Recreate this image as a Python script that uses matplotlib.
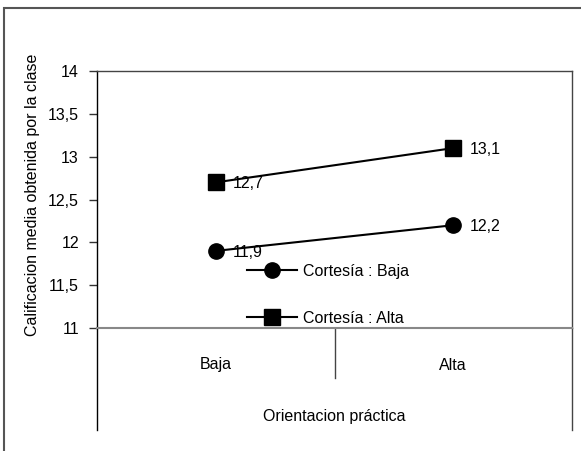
import matplotlib
matplotlib.use("Agg")
import matplotlib.pyplot as plt
from matplotlib.patches import Rectangle

plt.rcParams['font.family'] = ['Liberation Sans', 'DejaVu Sans']

categories = ["Baja", "Alta"]
series_names = ["Cortesía : Baja", "Cortesía : Alta"]
cortesia_baja = [11.9, 12.2]
cortesia_alta = [12.7, 13.1]
y_ticks = [11, 11.5, 12, 12.5, 13, 13.5, 14]
x_title = "Orientacion práctica"
y_title = "Calificacion media obtenida por la clase"

W, H = 581, 451
fig = plt.figure(figsize=(W / 100, H / 100), dpi=100)
fig.patch.set_facecolor("white")

def fx(px):
    return px / W

def fy(py):
    return 1 - py / H

# outer border (partially cut off, like the reference)
fig.add_artist(Rectangle((fx(4), fy(460)), fx(600) - fx(4), fy(8) - fy(460),
                         transform=fig.transFigure, fill=False,
                         edgecolor="#555555", linewidth=1.5))

left, right, top, bottom = 97, 572, 71, 328
ax = fig.add_axes([fx(left), fy(bottom), fx(right) - fx(left), fy(top) - fy(bottom)])

xs = list(range(len(categories)))
ms = 11
l1, = ax.plot(xs, cortesia_baja, color="black", lw=1.5, marker="o", ms=ms,
              label=series_names[0], clip_on=False, zorder=3)
l2, = ax.plot(xs, cortesia_alta, color="black", lw=1.5, marker="s", ms=ms,
              label=series_names[1], clip_on=False, zorder=3)

fs = 11.5
for vals in (cortesia_baja, cortesia_alta):
    for x, v in zip(xs, vals):
        ax.annotate(f"{v:.1f}".replace(".", ","), (x, v), xytext=(12, -1),
                    textcoords="offset points", ha="left", va="center", fontsize=fs)

ax.set_xlim(-0.5, len(categories) - 0.5)
ax.set_ylim(y_ticks[0], y_ticks[-1])
ax.set_yticks(y_ticks)
ax.set_yticklabels([(f"{t:g}").replace(".", ",") for t in y_ticks], fontsize=fs)
ax.tick_params(axis="y", direction="out", length=6, width=1, color="#333333", pad=7)
ax.set_xticks([])

for s in ["top", "right"]:
    ax.spines[s].set_color("#444444")
    ax.spines[s].set_linewidth(1)
ax.spines["left"].set_color("black")
ax.spines["left"].set_linewidth(1)
ax.spines["bottom"].set_color("#888888")
ax.spines["bottom"].set_linewidth(1.5)

# category table below axis
ext = (430 - bottom) / (bottom - top)
ax.plot([0, 0], [0, -ext], transform=ax.transAxes, color="black", lw=1, clip_on=False)
ax.plot([1, 1], [0, -ext], transform=ax.transAxes, color="#444444", lw=1, clip_on=False)
mid_ext = (378 - bottom) / (bottom - top)
ax.plot([0.5, 0.5], [0, -mid_ext], transform=ax.transAxes, color="#444444", lw=1, clip_on=False)

cat_y = -(365 - bottom) / (bottom - top)
for i, c in enumerate(categories):
    ax.text((i + 0.5) / len(categories), cat_y, c, transform=ax.transAxes,
            ha="center", va="center", fontsize=fs)

title_y = -(417 - bottom) / (bottom - top)
ax.text(0.5, title_y, x_title, transform=ax.transAxes, ha="center", va="center", fontsize=fs)

fig.text(fx(33), fy(195), y_title, rotation=90, ha="center", va="center", fontsize=fs)

leg = ax.legend(handles=[l1, l2], loc="upper left",
                bbox_to_anchor=((247 - left) / (right - left), 1 - (264 - top) / (bottom - top)),
                frameon=False, fontsize=fs, handlelength=3.1, labelspacing=2.0,
                handletextpad=0.4, borderaxespad=0, borderpad=0)

fig.savefig("out.png", dpi=100, facecolor="white")
